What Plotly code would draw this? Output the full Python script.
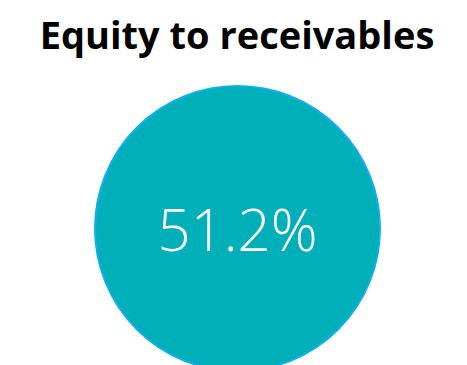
import plotly.graph_objects as go

title_text = "Equity to receivables"
labels = ["Equity to receivables"]
values = [51.2]
value_text = ["51.2%"]

W, H = 467, 365
fig = go.Figure(go.Pie(
    labels=labels,
    values=values,
    text=value_text,
    textinfo="text",
    textposition="inside",
    insidetextorientation="horizontal",
    insidetextfont=dict(family="Open Sans", size=58, color="white", weight=300),
    marker=dict(colors=["#00AFB7"], line=dict(color="#12AEEF", width=2)),
    sort=False,
    hoverinfo="skip",
    showlegend=False,
    domain=dict(x=[86 / W, 373 / W], y=[(H - 363) / H, (H - 78) / H]),
))
fig.update_layout(
    width=W, height=H,
    margin=dict(l=0, r=0, t=0, b=0),
    paper_bgcolor="white",
    plot_bgcolor="white",
    title=dict(text="<b>" + title_text + "</b>", x=229 / W, xanchor="center",
               y=1 - 28 / H, yanchor="middle", yref="container",
               font=dict(family="Open Sans", size=38, color="black")),
)
fig.write_html("out.html")
